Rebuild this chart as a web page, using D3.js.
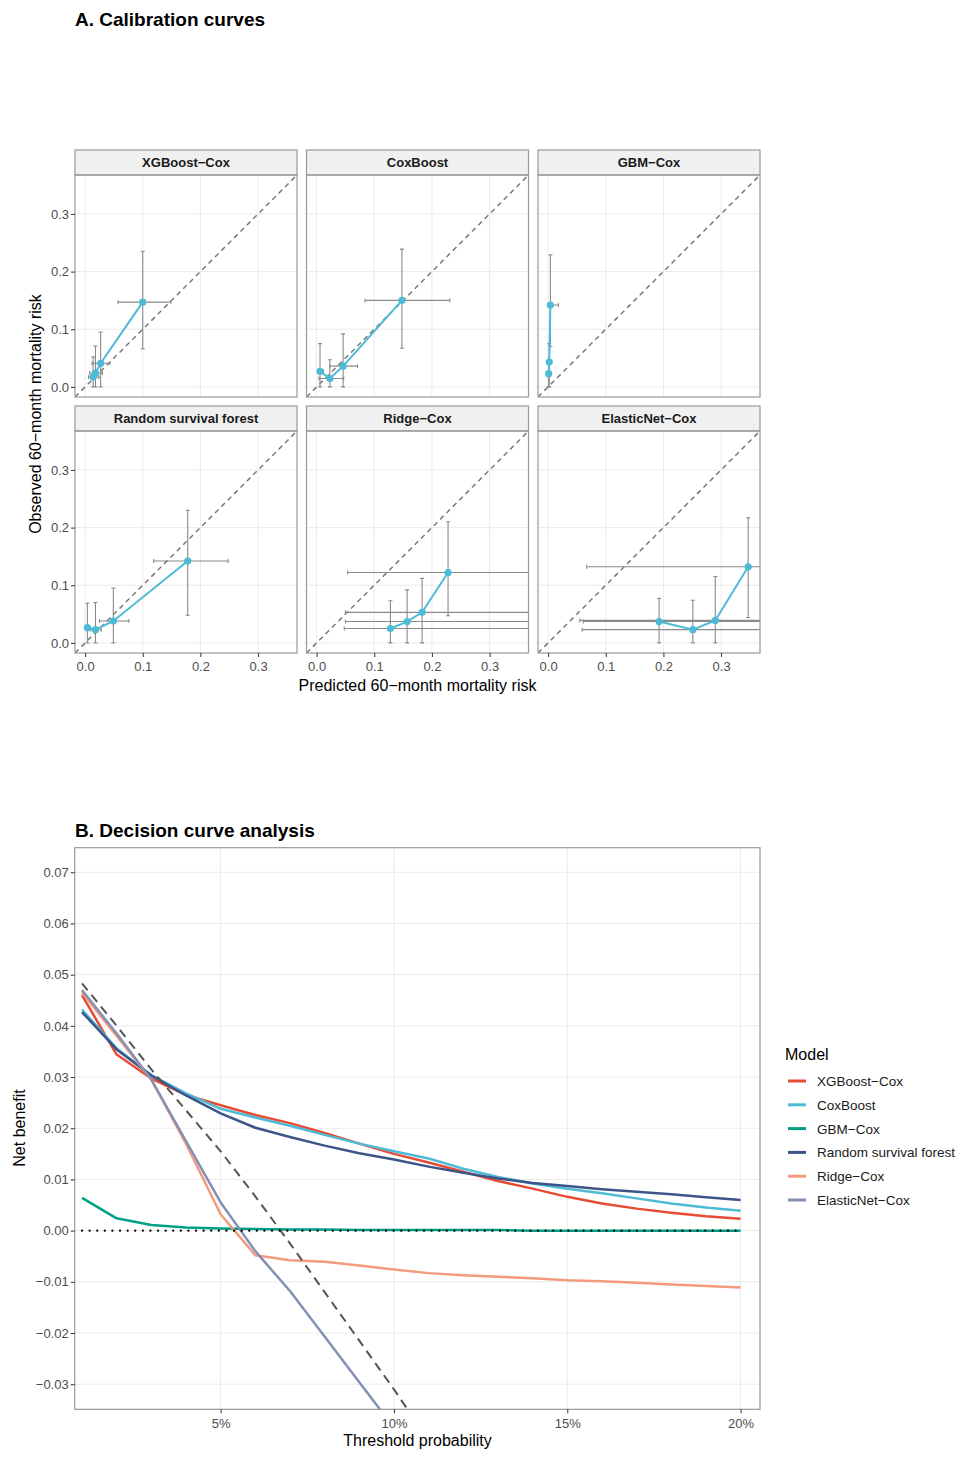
<!DOCTYPE html>
<html>
<head>
<meta charset="utf-8">
<script src="https://d3js.org/d3.v7.min.js"></script>
<style>
    body { margin: 0; background: #fff; }
    text { font-family: "Liberation Sans", Arial, Helvetica, sans-serif; }
    .tick text { fill: #4d4d4d; font-size: 13px; }
    .tick line { stroke: #333; }
</style>
</head>
<body>
<script>
// ---- calibration data (one array per model) ----
var calModels = ["XGBoost\u2212Cox", "CoxBoost", "GBM\u2212Cox", "Random survival forest", "Ridge\u2212Cox", "ElasticNet\u2212Cox"];

var calPred = [
    [0.014, 0.018, 0.027, 0.100],
    [0.006, 0.023, 0.046, 0.148],
    [0.001, 0.002, 0.004],
    [0.004, 0.018, 0.049, 0.178],
    [0.128, 0.157, 0.183, 0.228],
    [0.1925, 0.251, 0.290, 0.347]
];
var calObs = [
    [0.017, 0.024, 0.041, 0.147],
    [0.027, 0.0145, 0.036, 0.150],
    [0.023, 0.043, 0.142],
    [0.0265, 0.023, 0.038, 0.142],
    [0.025, 0.037, 0.053, 0.122],
    [0.037, 0.023, 0.039, 0.132]
];
var calObsLo = [
    [0, 0, 0, 0.066],
    [0, 0, 0, 0.067],
    [0, 0, 0.07],
    [0, 0, 0, 0.048],
    [0, 0, 0, 0.047],
    [0, 0, 0, 0.044]
];
var calObsHi = [
    [0.052, 0.071, 0.095, 0.235],
    [0.075, 0.047, 0.092, 0.239],
    [0.040, 0.075, 0.229],
    [0.069, 0.070, 0.095, 0.230],
    [0.073, 0.092, 0.112, 0.210],
    [0.077, 0.074, 0.115, 0.217]
];
var calPredLo = [
    [0.006, 0.008, 0.012, 0.057],
    [0.002, 0.004, 0.023, 0.084],
    [-0.001, -0.001, 0.000],
    [0.001, 0.010, 0.025, 0.119],
    [0.048, 0.050, 0.050, 0.054],
    [0.061, 0.059, 0.055, 0.067]
];
var calPredHi = [
    [0.024, 0.030, 0.043, 0.149],
    [0.012, 0.047, 0.071, 0.231],
    [0.004, 0.006, 0.018],
    [0.008, 0.028, 0.076, 0.248],
    [0.45, 0.45, 0.45, 0.45],
    [0.45, 0.45, 0.45, 0.45]
];
var calTicks = [0.0, 0.1, 0.2, 0.3];

// ---- decision curve data ----
var thresholds = [0.01, 0.02, 0.03, 0.04, 0.05, 0.06, 0.07, 0.08, 0.09, 0.10,
                  0.11, 0.12, 0.13, 0.14, 0.15, 0.16, 0.17, 0.18, 0.19, 0.20];
var nbXGBoost  = [0.0460, 0.0344, 0.0297, 0.0265, 0.0245, 0.0226, 0.0210, 0.0191, 0.0170, 0.0150,
                  0.0133, 0.0115, 0.0097, 0.0082, 0.0066, 0.0053, 0.0043, 0.0035, 0.0028, 0.0023];
var nbCoxBoost = [0.0432, 0.0356, 0.0304, 0.0268, 0.0238, 0.0221, 0.0205, 0.0187, 0.0170, 0.0155,
                  0.0141, 0.0121, 0.0105, 0.0092, 0.0082, 0.0073, 0.0063, 0.0053, 0.0045, 0.0039];
var nbGBM      = [0.0064, 0.0024, 0.0011, 0.0006, 0.0004, 0.0003, 0.0002, 0.0002, 0.0001, 0.0001,
                  0.0001, 0.0001, 0.0001, 0.0000, 0.0000, 0.0000, 0.0000, 0.0000, 0.0000, 0.0000];
var nbRSF      = [0.0427, 0.0354, 0.0303, 0.0264, 0.0229, 0.0201, 0.0183, 0.0166, 0.0151, 0.0139,
                  0.0125, 0.0113, 0.0102, 0.0093, 0.0087, 0.0081, 0.0076, 0.0071, 0.0065, 0.0060];
var nbRidge    = [0.0465, 0.0380, 0.0295, 0.0170, 0.0032, -0.0048, -0.0058, -0.0061, -0.0068, -0.0076,
                  -0.0083, -0.0087, -0.0090, -0.0093, -0.0097, -0.0099, -0.0102, -0.0105, -0.0108, -0.0111];
var nbElastic  = [0.0470, 0.0385, 0.0295, 0.0175, 0.0055, -0.0040, -0.0118, -0.0207, -0.0296, -0.0385];
var nbTreatAll = [0.0483, 0.0400, 0.0315, 0.0235, 0.0155, 0.0067, -0.0025, -0.0120, -0.0215, -0.0310, -0.0410];
var nbTicks = [-0.03, -0.02, -0.01, 0.00, 0.01, 0.02, 0.03, 0.04, 0.05, 0.06, 0.07];
var pctTicks = [0.05, 0.10, 0.15, 0.20];

var dcaSeries = [nbXGBoost, nbCoxBoost, nbGBM, nbRSF, nbRidge, nbElastic];
var dcaColors = ["#E64B35", "#4DBBD5", "#00A087", "#3C5488", "#F39B7F", "#8491B4"];

var minus = function(s){ return s.replace("-", "\u2212"); };

var svg = d3.select("body").append("svg")
    .attr("width", 969)
    .attr("height", 1460);

svg.append("rect").attr("width", 969).attr("height", 1460).attr("fill", "#fff");

// ================= A. Calibration curves =================
svg.append("text")
    .attr("x", 75).attr("y", 26)
    .style("font-size", "19px").style("font-weight", "bold")
    .text("A. Calibration curves");

var pw = 222, ph = 222, stripH = 25;
var colX = [75, 306.5, 538];
var rowY = [150, 406];

var cx = d3.scaleLinear().domain([-0.0175, 0.3675]).range([0, pw]);
var cy = d3.scaleLinear().domain([-0.0175, 0.3675]).range([ph, 0]);

var defs = svg.append("defs");

calModels.forEach(function(name, i){
    var col = i % 3, row = Math.floor(i / 3);
    var gx = colX[col], gy = rowY[row] + stripH;

    // strip
    svg.append("rect")
        .attr("x", gx).attr("y", rowY[row])
        .attr("width", pw).attr("height", stripH)
        .attr("fill", "#f0f0f0").attr("stroke", "#999").attr("stroke-width", 1.2);
    svg.append("text")
        .attr("x", gx + pw / 2).attr("y", rowY[row] + 17)
        .attr("text-anchor", "middle")
        .style("font-size", "13px").style("font-weight", "bold").style("fill", "#1a1a1a")
        .text(name);

    var g = svg.append("g").attr("transform", "translate(" + gx + "," + gy + ")");

    defs.append("clipPath").attr("id", "clip" + i)
        .append("rect").attr("width", pw).attr("height", ph);

    // grid
    g.selectAll(".vg").data(calTicks).enter().append("line")
        .attr("x1", function(d){ return cx(d); }).attr("x2", function(d){ return cx(d); })
        .attr("y1", 0).attr("y2", ph)
        .attr("stroke", "#ebebeb").attr("stroke-width", 1);
    g.selectAll(".hg").data(calTicks).enter().append("line")
        .attr("y1", function(d){ return cy(d); }).attr("y2", function(d){ return cy(d); })
        .attr("x1", 0).attr("x2", pw)
        .attr("stroke", "#ebebeb").attr("stroke-width", 1);

    var inner = g.append("g").attr("clip-path", "url(#clip" + i + ")");

    // reference diagonal
    inner.append("line")
        .attr("x1", cx(-0.0175)).attr("y1", cy(-0.0175))
        .attr("x2", cx(0.3675)).attr("y2", cy(0.3675))
        .attr("stroke", "#7a7a7a").attr("stroke-width", 1.5)
        .attr("stroke-dasharray", "5,4");

    var pts = calPred[i].map(function(p, j){
        return { x: p, y: calObs[i][j], ylo: calObsLo[i][j], yhi: calObsHi[i][j],
                 xlo: calPredLo[i][j], xhi: calPredHi[i][j] };
    });

    // error bars, vertical then horizontal
    var eb = inner.append("g").attr("stroke", "#8a8a8a").attr("stroke-width", 1.1);
    pts.forEach(function(d){
        eb.append("line").attr("x1", cx(d.x)).attr("x2", cx(d.x))
            .attr("y1", cy(d.ylo)).attr("y2", cy(d.yhi));
        eb.append("line").attr("x1", cx(d.x) - 2).attr("x2", cx(d.x) + 2)
            .attr("y1", cy(d.ylo)).attr("y2", cy(d.ylo));
        eb.append("line").attr("x1", cx(d.x) - 2).attr("x2", cx(d.x) + 2)
            .attr("y1", cy(d.yhi)).attr("y2", cy(d.yhi));
        eb.append("line").attr("y1", cy(d.y)).attr("y2", cy(d.y))
            .attr("x1", cx(d.xlo)).attr("x2", cx(d.xhi));
        eb.append("line").attr("y1", cy(d.y) - 2).attr("y2", cy(d.y) + 2)
            .attr("x1", cx(d.xlo)).attr("x2", cx(d.xlo));
        eb.append("line").attr("y1", cy(d.y) - 2).attr("y2", cy(d.y) + 2)
            .attr("x1", cx(d.xhi)).attr("x2", cx(d.xhi));
    });

    inner.append("path")
        .datum(pts)
        .attr("d", d3.line().x(function(d){ return cx(d.x); }).y(function(d){ return cy(d.y); }))
        .attr("fill", "none").attr("stroke", "#4DBBD5").attr("stroke-width", 2);

    inner.selectAll(".pt").data(pts).enter().append("circle")
        .attr("cx", function(d){ return cx(d.x); })
        .attr("cy", function(d){ return cy(d.y); })
        .attr("r", 3.6).attr("fill", "#4DBBD5");

    // panel border
    g.append("rect").attr("width", pw).attr("height", ph)
        .attr("fill", "none").attr("stroke", "#999").attr("stroke-width", 1.2);

    if (col === 0) {
        g.append("g")
            .call(d3.axisLeft(cy).tickValues(calTicks).tickSize(4).tickPadding(2).tickFormat(d3.format(".1f")))
            .call(function(a){ a.select(".domain").remove(); });
    }
    if (row === 1) {
        g.append("g").attr("transform", "translate(0," + ph + ")")
            .call(d3.axisBottom(cx).tickValues(calTicks).tickSize(4).tickPadding(5).tickFormat(d3.format(".1f")))
            .call(function(a){ a.select(".domain").remove(); });
    }
});

svg.append("text")
    .attr("x", 417.5).attr("y", 691)
    .attr("text-anchor", "middle")
    .style("font-size", "16px")
    .text("Predicted 60\u2212month mortality risk");

svg.append("text")
    .attr("transform", "translate(41,414) rotate(-90)")
    .attr("text-anchor", "middle")
    .style("font-size", "16px")
    .text("Observed 60\u2212month mortality risk");

// ================= B. Decision curve analysis =================
svg.append("text")
    .attr("x", 75).attr("y", 837)
    .style("font-size", "19px").style("font-weight", "bold")
    .text("B. Decision curve analysis");

var dl = 74.7, dt = 847.7, dw = 760 - 74.7, dh = 1409.3 - 847.7;
var dx = d3.scaleLinear().domain([0.0079, 0.2056]).range([0, dw]);
var dy = d3.scaleLinear().domain([-0.0349, 0.0748]).range([dh, 0]);

var dg = svg.append("g").attr("transform", "translate(" + dl + "," + dt + ")");

defs.append("clipPath").attr("id", "clipDca")
    .append("rect").attr("width", dw).attr("height", dh);

dg.selectAll(".hg").data(nbTicks).enter().append("line")
    .attr("x1", 0).attr("x2", dw)
    .attr("y1", function(d){ return dy(d); }).attr("y2", function(d){ return dy(d); })
    .attr("stroke", "#ebebeb");
dg.selectAll(".vg").data(pctTicks).enter().append("line")
    .attr("y1", 0).attr("y2", dh)
    .attr("x1", function(d){ return dx(d); }).attr("x2", function(d){ return dx(d); })
    .attr("stroke", "#ebebeb");

var dInner = dg.append("g").attr("clip-path", "url(#clipDca)");

var line = d3.line()
    .x(function(d){ return dx(d[0]); })
    .y(function(d){ return dy(d[1]); });

function pairs(vals){
    return vals.map(function(v, j){ return [thresholds[j], v]; });
}

dcaSeries.forEach(function(s, k){
    dInner.append("path")
        .datum(pairs(s))
        .attr("d", line)
        .attr("fill", "none")
        .attr("stroke", dcaColors[k])
        .attr("stroke-width", 2.5)
        .attr("stroke-linejoin", "round");
});

// treat all
dInner.append("path")
    .datum(pairs(nbTreatAll))
    .attr("d", line)
    .attr("fill", "none").attr("stroke", "#555").attr("stroke-width", 2)
    .attr("stroke-dasharray", "9,6");

// treat none, drawn on top
dInner.append("path")
    .datum(pairs(thresholds.map(function(){ return 0; })))
    .attr("d", line)
    .attr("fill", "none").attr("stroke", "#000").attr("stroke-width", 2.2)
    .attr("stroke-dasharray", "0.1,7.5").attr("stroke-linecap", "round");

dg.append("rect").attr("width", dw).attr("height", dh)
    .attr("fill", "none").attr("stroke", "#999").attr("stroke-width", 1.2);

dg.append("g")
    .call(d3.axisLeft(dy).tickValues(nbTicks).tickSize(4).tickPadding(2)
        .tickFormat(function(d){ return minus(d3.format(".2f")(d)); }))
    .call(function(a){ a.select(".domain").remove(); });

dg.append("g").attr("transform", "translate(0," + dh + ")")
    .call(d3.axisBottom(dx).tickValues(pctTicks).tickSize(4).tickPadding(5)
        .tickFormat(d3.format(".0%")))
    .call(function(a){ a.select(".domain").remove(); });

svg.append("text")
    .attr("x", 417.5).attr("y", 1446)
    .attr("text-anchor", "middle")
    .style("font-size", "16px")
    .text("Threshold probability");

svg.append("text")
    .attr("transform", "translate(25,1128) rotate(-90)")
    .attr("text-anchor", "middle")
    .style("font-size", "16px")
    .text("Net benefit");

// legend
var legend = svg.append("g").attr("transform", "translate(785,1060)");
legend.append("text").attr("x", 0).attr("y", 0)
    .style("font-size", "16px").text("Model");

var items = legend.selectAll(".item").data(calModels).enter().append("g")
    .attr("transform", function(d, i){ return "translate(0," + (21 + i * 23.8) + ")"; });
items.append("line")
    .attr("x1", 3).attr("x2", 21)
    .attr("stroke", function(d, i){ return dcaColors[i]; })
    .attr("stroke-width", 3);
items.append("text")
    .attr("x", 32).attr("y", 5)
    .style("font-size", "13.5px").style("fill", "#1a1a1a")
    .text(function(d){ return d; });
</script>
</body>
</html>
